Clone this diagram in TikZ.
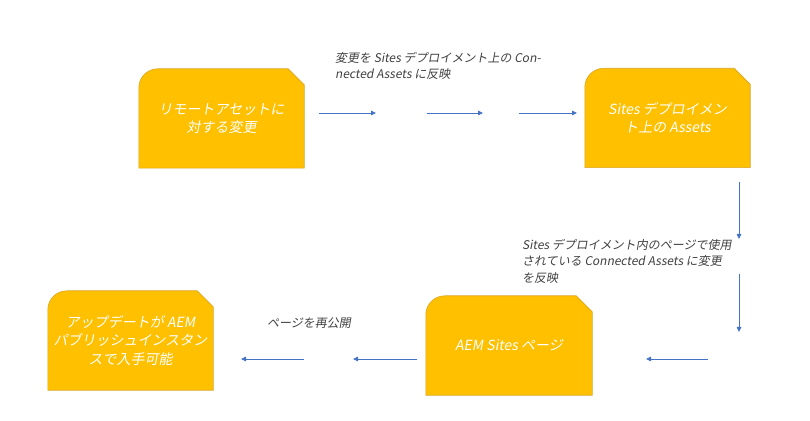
\documentclass[tikz,border=0pt]{standalone}
\usepackage{fontspec}
\setmainfont{Noto Sans CJK JP}[FakeSlant=0.18]
\usetikzlibrary{arrows.meta,backgrounds,calc}
\definecolor{boxgold}{HTML}{FFC000}
\definecolor{boxedge}{HTML}{D9A520}
\definecolor{arrowblue}{HTML}{4472C4}
\definecolor{labelgray}{HTML}{404040}
\tikzset{
  stepbox/.style={minimum width=165pt,minimum height=99pt,inner sep=0pt,
    text=white,font=\fontsize{14}{18.5}\selectfont,align=center},
  flowarrow/.style={draw=arrowblue,line width=0.8pt,-{Triangle[length=5pt,width=4.5pt]}},
  steplabel/.style={text=labelgray,font=\fontsize{12}{16.5}\selectfont,align=left,inner sep=0pt}
}
\newcommand{\goldshape}[1]{%
  \fill[boxgold,draw=boxedge,line width=0.6pt]
    (#1.south west) -- ($(#1.north west)+(0,-19)$)
    arc[start angle=180,end angle=90,radius=19pt]
    -- ($(#1.north east)+(-16,0)$) -- ($(#1.north east)+(0,-16)$)
    -- (#1.south east) -- cycle;}
\newcommand{\boxtext}[2]{\raisebox{#1}{\parbox{160pt}{\centering #2}}}
\begin{document}
\begin{tikzpicture}[x=1pt,y=1pt]
\useasboundingbox (0,0) rectangle (810,420);
% boxes
\node[stepbox] (remote) at (221.5,301.5) {\boxtext{-3pt}{リモートアセットに\\対する変更}};
\node[stepbox] (sites) at (667.5,302) {\boxtext{-2pt}{Sites デプロイメン\\ト上の Assets}};
\node[stepbox,minimum width=166pt] (page) at (509,74.5) {AEM Sites ページ};
\node[stepbox] (publish) at (130.5,79.5) {\boxtext{-4pt}{アップデートが AEM\\パブリッシュインスタン\\スで入手可能}};
\begin{scope}[on background layer]
\goldshape{remote}
\goldshape{sites}
\goldshape{page}
\goldshape{publish}
\end{scope}
% connector points
\coordinate (t1a) at (319,307); \coordinate (t1b) at (376,307);
\coordinate (t2a) at (427,307); \coordinate (t2b) at (483,307);
\coordinate (t3a) at (519,307); \coordinate (t3b) at (577,307);
\coordinate (v1a) at (739,238); \coordinate (v1b) at (739,181);
\coordinate (v2a) at (739,146); \coordinate (v2b) at (739,88);
\coordinate (b1a) at (708,61); \coordinate (b1b) at (646,61);
\coordinate (b2a) at (417,61); \coordinate (b2b) at (353,61);
\coordinate (b3a) at (304,61); \coordinate (b3b) at (241,61);
\draw[flowarrow] (t1a) -- (t1b);
\draw[flowarrow] (t2a) -- (t2b);
\draw[flowarrow] (t3a) -- (t3b);
\draw[flowarrow] (v1a) -- (v1b);
\draw[flowarrow] (v2a) -- (v2b);
\draw[flowarrow] (b1a) -- (b1b);
\draw[flowarrow] (b2a) -- (b2b);
\draw[flowarrow] (b3a) -- (b3b);
% labels
\node[steplabel,anchor=north west] (lbltop) at (335,368) {変更を Sites デプロイメント上の Con-\\nected Assets に反映};
\node[steplabel,anchor=north west] (lblright) at (522,181) {Sites デプロイメント内のページで使用\\されている Connected Assets に変更\\を反映};
\node[steplabel] (lblbottom) at (309,97) {ページを再公開};
\end{tikzpicture}
\end{document}
